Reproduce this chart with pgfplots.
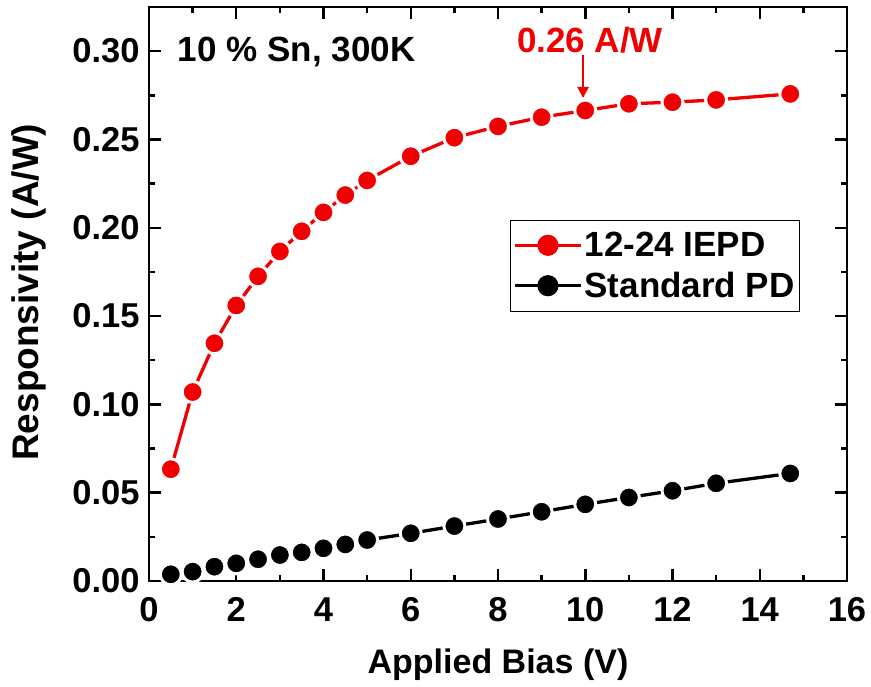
\documentclass[border=0pt]{standalone}
\usepackage{fontspec}
\setmainfont{Liberation Sans}
\usepackage{pgfplots}
\pgfplotsset{compat=1.18}
\usetikzlibrary{arrows.meta}
\definecolor{pred}{RGB}{240,0,0}
\begin{document}
\begin{tikzpicture}
\begin{axis}[
  name=ax,
  scale only axis,
  width=698bp, height=574bp,
  xmin=0, xmax=16, ymin=0, ymax=0.325,
  axis line style={line width=2.5bp},
  xtick={0,2,4,6,8,10,12,14,16},
  ytick={0,0.05,0.10,0.15,0.20,0.25,0.30},
  minor x tick num=1, minor y tick num=1,
  tick align=inside,
  major tick length=12bp, minor tick length=6bp,
  every tick/.style={black, line width=2.5bp},
  every minor tick/.style={black, line width=2.5bp},
  tick label style={font=\fontsize{34.5bp}{38bp}\selectfont\bfseries},
  /pgf/number format/assume math mode=true,
  yticklabel style={xshift=-6bp, /pgf/number format/.cd, fixed, fixed zerofill, precision=2},
  xticklabel style={yshift=-13bp, /pgf/number format/.cd, fixed, precision=0},
  xlabel={Applied Bias (V)},
  ylabel={Responsivity (A/W)},
  xlabel style={font=\fontsize{34bp}{38bp}\selectfont\bfseries, at={(axis description cs:0.5,-0.145)}, anchor=center},
  ylabel style={font=\fontsize{37bp}{40bp}\selectfont\bfseries, at={(axis description cs:-0.172,0.503)}, anchor=center},
  legend style={at={(rel axis cs:0.517,0.629)}, anchor=north west,
    draw=black, line width=0.8bp, font=\fontsize{35bp}{39bp}\selectfont\bfseries,
    inner xsep=3bp, inner ysep=10bp, row sep=10bp, cells={anchor=west}},
  legend image code/.code={%
    \draw[mark repeat=2, mark phase=2, mark options={scale=0.85}] plot coordinates {(0bp,0bp) (33bp,0bp) (66bp,0bp)};},
  clip=false,
]
\addplot[pred, line width=3.3bp, mark=*, mark size=10.5bp,
  mark options={fill=pred, draw=white, line width=3bp}]
coordinates {
(0.5,0.0633) (1,0.107) (1.5,0.1346) (2,0.156) (2.5,0.1725) (3,0.1866)
(3.5,0.198) (4,0.2087) (4.5,0.2185) (5,0.2268) (6,0.2405) (7,0.2510)
(8,0.2574) (9,0.2626) (10,0.2664) (11,0.2702) (12,0.2711) (13,0.2724)
(14.7,0.2758)};
\addlegendentry{12-24 IEPD}
\addplot[black, line width=3.3bp, mark=*, mark size=10.5bp,
  mark options={fill=black, draw=white, line width=3bp}]
coordinates {
(0.5,0.0038) (1,0.0053) (1.5,0.0081) (2,0.0100) (2.5,0.0123) (3,0.0147)
(3.5,0.0162) (4,0.0185) (4.5,0.0207) (5,0.0232) (6,0.0270) (7,0.0311)
(8,0.0351) (9,0.0392) (10,0.0434) (11,0.0473) (12,0.0511) (13,0.0553)
(14.7,0.0609)};
\addlegendentry{Standard PD}
\node[anchor=west, font=\fontsize{35bp}{38bp}\selectfont\bfseries, inner sep=0pt]
  at (axis cs:0.66,0.2998) {10 \% Sn, 300K};
\node[anchor=center, text=pred, font=\fontsize{35bp}{38bp}\selectfont\bfseries, inner sep=0pt]
  at (axis cs:10.11,0.306) {0.26 A/W};
\draw[pred, line width=2.5bp, -{Triangle[length=11bp,width=11bp]}]
  (axis cs:9.95,0.2976) -- (axis cs:9.95,0.2735);
\end{axis}
\pgfresetboundingbox
\path[use as bounding box] (-149bp,-106bp) rectangle (722bp,581bp);
\end{tikzpicture}
\end{document}
